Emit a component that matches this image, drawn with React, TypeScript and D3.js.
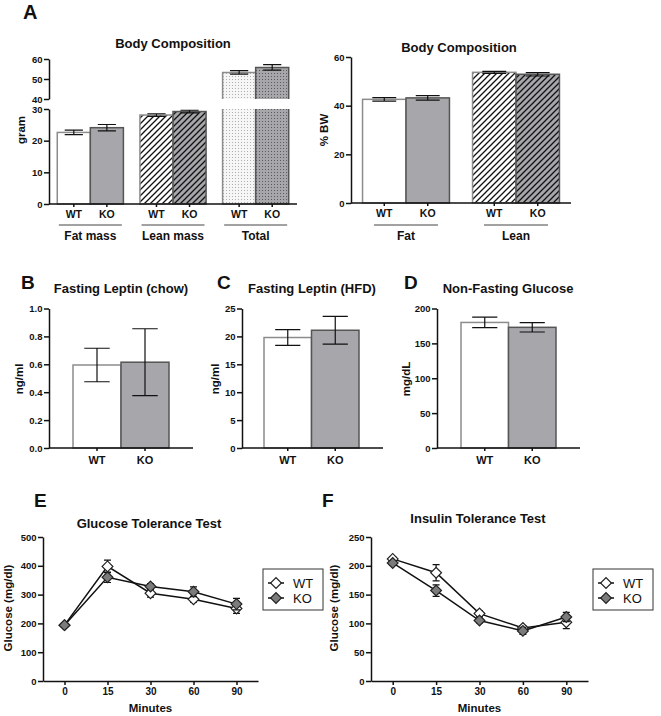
import React, { useEffect, useRef } from 'react';
import * as d3 from 'd3';

const FONT = '"Liberation Sans", Arial, Helvetica, sans-serif';
const INK = '#111';
const GREY = '#a7a6ab';
const MARKER_GREY = '#7b7b7b';

const genotypes = ['WT', 'KO'];

// A (left) body composition in grams
const massCategories = ['Fat mass', 'Lean mass', 'Total'];
const massWT = [22.6, 28.1, 53.3];
const massWTErr = [0.7, 0.4, 0.9];
const massKO = [24.1, 29.2, 55.8];
const massKOErr = [1.0, 0.4, 1.4];
const massLowTicks = [0, 10, 20, 30];
const massHighTicks = [40, 50, 60];

// A (right) body composition in % BW
const pctCategories = ['Fat', 'Lean'];
const pctWT = [42.6, 53.7];
const pctWTErr = [0.7, 0.4];
const pctKO = [43.2, 52.9];
const pctKOErr = [0.9, 0.7];
const pctTicks = [0, 20, 40, 60];

// B-D, values are [WT, KO]
const leptinChow = [0.595, 0.615];
const leptinChowErr = [0.12, 0.24];
const leptinChowTicks = [0, 0.2, 0.4, 0.6, 0.8, 1.0];

const leptinHfd = [19.8, 21.1];
const leptinHfdErr = [1.4, 2.5];
const leptinHfdTicks = [0, 5, 10, 15, 20, 25];

const glucoseNF = [180, 173];
const glucoseNFErr = [7.5, 6.7];
const glucoseNFTicks = [0, 50, 100, 150, 200];

// E, F
const minutes = ['0', '15', '30', '60', '90'];
const gttWT = [194, 398, 305, 284, 252];
const gttWTErr = [5, 22, 14, 10, 17];
const gttKO = [194, 360, 328, 310, 267];
const gttKOErr = [5, 18, 10, 17, 20];
const gttTicks = [0, 100, 200, 300, 400, 500];

const ittWT = [212, 188, 117, 92, 102];
const ittWTErr = [4, 14, 5, 4, 11];
const ittKO = [205, 157, 105, 87, 111];
const ittKOErr = [4, 10, 4, 6, 8];
const ittTicks = [0, 50, 100, 150, 200, 250];

const addText = (g: any, x: number, y: number, s: string, size: number, weight = 'bold', anchor = 'middle') =>
  g.append('text')
    .attr('x', x)
    .attr('y', y)
    .attr('font-family', FONT)
    .attr('font-size', size)
    .attr('font-weight', weight)
    .attr('text-anchor', anchor)
    .attr('fill', INK)
    .text(s);

const addYLabel = (g: any, x: number, y: number, s: string) =>
  g.append('text')
    .attr('transform', `translate(${x},${y}) rotate(-90)`)
    .attr('font-family', FONT)
    .attr('font-size', 11.5)
    .attr('font-weight', 'bold')
    .attr('text-anchor', 'middle')
    .attr('fill', INK)
    .text(s);

const styleAxis = (ax: any, size: number) => {
  ax.select('.domain').attr('stroke', INK).attr('stroke-width', 1.5);
  ax.selectAll('.tick line').attr('stroke', INK).attr('stroke-width', 1.5);
  ax.selectAll('.tick text')
    .attr('font-family', FONT)
    .attr('font-size', size)
    .attr('font-weight', 'bold')
    .attr('fill', INK);
};

const drawYAxis = (g: any, scale: any, ticks: number[], x: number, fmt: any = d3.format('d')) => {
  const ax = g.append('g')
    .attr('transform', `translate(${x},0)`)
    .call(d3.axisLeft(scale).tickValues(ticks).tickSize(5).tickSizeOuter(0).tickPadding(1.5).tickFormat(fmt));
  styleAxis(ax, 9.5);
};

const drawXLine = (g: any, x0: number, x1: number, y: number) =>
  g.append('line')
    .attr('x1', x0).attr('x2', x1)
    .attr('y1', y).attr('y2', y)
    .attr('stroke', INK)
    .attr('stroke-width', 1.5);

const errorBar = (g: any, x: number, yA: number, yB: number, cap: number) =>
  g.append('path')
    .attr('d', `M${x},${yA}V${yB}M${x - cap / 2},${yA}H${x + cap / 2}M${x - cap / 2},${yB}H${x + cap / 2}`)
    .attr('fill', 'none')
    .attr('stroke', INK)
    .attr('stroke-width', 1.2);

const barStroke = (gi: number) => (gi ? '#555' : '#8c8c8c');

// plain / hatched / dotted fill by category index
const fillFor = (ci: number, gi: number) => {
  if (ci === 1) return gi ? 'url(#hatchKO)' : 'url(#hatchWT)';
  if (ci === 2) return gi ? 'url(#dotsKO)' : 'url(#dotsWT)';
  return gi ? GREY : '#fff';
};

const barPanel = (svg: any, p: any) => {
  const g = svg.append('g');
  const y = d3.scaleLinear().domain([0, p.max]).range([448, 308.5]);
  const x = d3.scaleBand().domain(genotypes).range(p.band);
  genotypes.forEach((gt, i) => {
    const v = p.values[i];
    g.append('rect')
      .attr('x', x(gt))
      .attr('y', y(v))
      .attr('width', x.bandwidth())
      .attr('height', y(0) - y(v))
      .attr('fill', i ? GREY : '#fff')
      .attr('stroke', barStroke(i))
      .attr('stroke-width', 1.5);
    errorBar(g, x(gt)! + x.bandwidth() / 2, y(v - p.errs[i]), y(v + p.errs[i]), x.bandwidth() * 0.53);
  });
  drawXLine(g, p.axisX, p.axisEnd, y(0));
  const xa = g.append('g')
    .attr('transform', `translate(0,${y(0)})`)
    .call(d3.axisBottom(x).tickSize(3).tickPadding(5));
  xa.select('.domain').remove();
  styleAxis(xa, 11);
  drawYAxis(g, y, p.ticks, p.axisX, p.fmt);
  addText(g, p.titleX, 293, p.title, 13);
  addText(g, p.letterX, 289, p.letter, 19, 'bold', 'start');
  addYLabel(g, p.ylabelX, 379, p.ylabel);
};

const linePanel = (svg: any, p: any) => {
  const g = svg.append('g');
  const x = d3.scalePoint().domain(minutes).range([p.axisX, p.axisEnd]).padding(0.5);
  const y = d3.scaleLinear().domain([0, p.max]).range([681, 537]);
  const diamond = d3.symbol().type(d3.symbolSquare).size(58);
  const line = d3.line<number>().x((_, i) => x(minutes[i])!).y((d) => y(d));
  const series = [
    { vals: p.wt, errs: p.wtErr, fill: '#fff' },
    { vals: p.ko, errs: p.koErr, fill: MARKER_GREY },
  ];
  series.forEach((s) => {
    s.vals.forEach((v: number, i: number) => errorBar(g, x(minutes[i])!, y(v - s.errs[i]), y(v + s.errs[i]), 7));
    g.append('path')
      .attr('d', line(s.vals))
      .attr('fill', 'none')
      .attr('stroke', INK)
      .attr('stroke-width', 1.5);
    s.vals.forEach((v: number, i: number) => {
      g.append('path')
        .attr('d', diamond())
        .attr('transform', `translate(${x(minutes[i])},${y(v)}) rotate(45)`)
        .attr('fill', s.fill)
        .attr('stroke', '#222')
        .attr('stroke-width', 1.2);
    });
  });

  const xa = g.append('g')
    .attr('transform', `translate(0,${y(0)})`)
    .call(d3.axisBottom(x).tickSize(4).tickSizeOuter(0).tickPadding(3));
  styleAxis(xa, 10);
  drawYAxis(g, y, p.ticks, p.axisX);

  addText(g, (p.axisX + p.axisEnd) / 2, 712, 'Minutes', 11.5);
  addText(g, p.titleX, p.titleY, p.title, 13);
  addText(g, p.letterX, 507, p.letter, 19, 'bold', 'start');
  addYLabel(g, p.ylabelX, 608, 'Glucose (mg/dl)');

  // legend
  const lg = g.append('g').attr('transform', `translate(${p.legendX},569)`);
  lg.append('rect')
    .attr('width', 60)
    .attr('height', 41)
    .attr('fill', '#fff')
    .attr('stroke', '#333')
    .attr('stroke-width', 1);
  series.forEach((s, i) => {
    const cy = 14 + i * 15;
    lg.append('line')
      .attr('x1', 5).attr('x2', 21)
      .attr('y1', cy).attr('y2', cy)
      .attr('stroke', INK)
      .attr('stroke-width', 1.5);
    lg.append('path')
      .attr('d', diamond())
      .attr('transform', `translate(13,${cy}) rotate(45)`)
      .attr('fill', s.fill)
      .attr('stroke', '#222')
      .attr('stroke-width', 1.2);
    addText(lg, 30, cy + 4.5, genotypes[i], 13, 'normal', 'start');
  });
};

export default function App() {
  const svgRef = useRef<SVGSVGElement>(null);

  useEffect(() => {
    const svg = d3.select(svgRef.current);
    svg.selectAll('*').remove();

    // patterns
    const defs = svg.append('defs');
    const hatch = (id: string, bg: string) => {
      const pt = defs.append('pattern')
        .attr('id', id)
        .attr('patternUnits', 'userSpaceOnUse')
        .attr('width', 6)
        .attr('height', 6);
      pt.append('rect').attr('width', 6).attr('height', 6).attr('fill', bg);
      pt.append('path')
        .attr('d', 'M-1,1L1,-1M0,6L6,0M5,7L7,5')
        .attr('stroke', INK)
        .attr('stroke-width', 1.3);
    };
    const dots = (id: string, bg: string, dot: string) => {
      const pt = defs.append('pattern')
        .attr('id', id)
        .attr('patternUnits', 'userSpaceOnUse')
        .attr('width', 3)
        .attr('height', 3);
      pt.append('rect').attr('width', 3).attr('height', 3).attr('fill', bg);
      pt.append('rect').attr('x', 1).attr('y', 1).attr('width', 1).attr('height', 1).attr('fill', dot);
    };
    hatch('hatchWT', '#fff');
    hatch('hatchKO', GREY);
    dots('dotsWT', '#f6f6f6', '#b0b0b0');
    dots('dotsKO', GREY, '#5a5a5a');

    svg.append('rect').attr('width', 661).attr('height', 716).attr('fill', '#fff');

    // ---- A left: grams with broken axis
    const gA = svg.append('g');
    const ax = d3.scaleBand().domain(massCategories).range([49, 297]).paddingInner(0.2).paddingOuter(0.1);
    const inner = d3.scaleBand().domain(genotypes).range([0, ax.bandwidth()]);
    const yLow = d3.scaleLinear().domain([0, 30]).range([204, 109]);
    const yHigh = d3.scaleLinear().domain([40, 60]).range([99, 59]);

    massCategories.forEach((cat, ci) => {
      genotypes.forEach((gt, gi) => {
        const v = gi ? massKO[ci] : massWT[ci];
        const e = gi ? massKOErr[ci] : massWTErr[ci];
        const bx = ax(cat)! + inner(gt)!;
        const w = inner.bandwidth();
        if (v > 30) {
          gA.append('rect')
            .attr('x', bx).attr('y', yLow(30))
            .attr('width', w).attr('height', yLow(0) - yLow(30))
            .attr('fill', fillFor(ci, gi));
          gA.append('path')
            .attr('d', `M${bx},${yLow(30)}V${yLow(0)}H${bx + w}V${yLow(30)}`)
            .attr('fill', 'none').attr('stroke', barStroke(gi)).attr('stroke-width', 1.5);
          gA.append('rect')
            .attr('x', bx).attr('y', yHigh(v))
            .attr('width', w).attr('height', yHigh(40) - yHigh(v))
            .attr('fill', fillFor(ci, gi));
          gA.append('path')
            .attr('d', `M${bx},${yHigh(40)}V${yHigh(v)}H${bx + w}V${yHigh(40)}`)
            .attr('fill', 'none').attr('stroke', barStroke(gi)).attr('stroke-width', 1.5);
          errorBar(gA, bx + w / 2, yHigh(v - e), yHigh(v + e), w * 0.55);
        } else {
          gA.append('rect')
            .attr('x', bx).attr('y', yLow(v))
            .attr('width', w).attr('height', yLow(0) - yLow(v))
            .attr('fill', fillFor(ci, gi))
            .attr('stroke', barStroke(gi)).attr('stroke-width', 1.5);
          errorBar(gA, bx + w / 2, yLow(v - e), yLow(v + e), w * 0.55);
        }
      });
      const xa = gA.append('g')
        .attr('transform', `translate(${ax(cat)},204)`)
        .call(d3.axisBottom(inner).tickSize(3).tickPadding(3.5));
      xa.select('.domain').remove();
      styleAxis(xa, 10.5);
      const c = ax(cat)! + ax.bandwidth() / 2;
      gA.append('line')
        .attr('x1', c - 31.5).attr('x2', c + 31.5)
        .attr('y1', 225).attr('y2', 225)
        .attr('stroke', '#444').attr('stroke-width', 1);
      addText(gA, c, 240, cat, 12);
    });
    drawXLine(gA, 49, 297, 204);
    drawYAxis(gA, yLow, massLowTicks, 49);
    drawYAxis(gA, yHigh, massHighTicks, 49);
    addText(gA, 173, 48, 'Body Composition', 13);
    addText(gA, 23, 19, 'A', 20, 'bold', 'start');
    addYLabel(gA, 25, 130, 'gram');

    // ---- A right: % BW
    const gR = svg.append('g');
    const bxs = d3.scaleBand().domain(pctCategories).range([351, 571]).paddingInner(0.21).paddingOuter(0.105);
    const innerR = d3.scaleBand().domain(genotypes).range([0, bxs.bandwidth()]);
    const yR = d3.scaleLinear().domain([0, 60]).range([203, 57]);
    pctCategories.forEach((cat, ci) => {
      genotypes.forEach((gt, gi) => {
        const v = gi ? pctKO[ci] : pctWT[ci];
        const e = gi ? pctKOErr[ci] : pctWTErr[ci];
        const bx = bxs(cat)! + innerR(gt)!;
        const w = innerR.bandwidth();
        gR.append('rect')
          .attr('x', bx).attr('y', yR(v))
          .attr('width', w).attr('height', yR(0) - yR(v))
          .attr('fill', fillFor(ci, gi))
          .attr('stroke', barStroke(gi)).attr('stroke-width', 1.5);
        errorBar(gR, bx + w / 2, yR(v - e), yR(v + e), w * 0.55);
      });
      const xa = gR.append('g')
        .attr('transform', `translate(${bxs(cat)},203)`)
        .call(d3.axisBottom(innerR).tickSize(3).tickPadding(4));
      xa.select('.domain').remove();
      styleAxis(xa, 10.5);
      const c = bxs(cat)! + bxs.bandwidth() / 2;
      gR.append('line')
        .attr('x1', c - 32).attr('x2', c + 32)
        .attr('y1', 225).attr('y2', 225)
        .attr('stroke', '#444').attr('stroke-width', 1);
      addText(gR, c, 240, cat, 12);
    });
    drawXLine(gR, 351, 571, 203);
    drawYAxis(gR, yR, pctTicks, 351);
    addText(gR, 459, 52, 'Body Composition', 13);
    addYLabel(gR, 328, 130, '% BW');

    // ---- B, C, D
    barPanel(svg, {
      max: 1.0, band: [73, 169], axisX: 49, axisEnd: 193,
      values: leptinChow, errs: leptinChowErr, ticks: leptinChowTicks, fmt: d3.format('.1f'),
      title: 'Fasting Leptin (chow)', titleX: 121, letter: 'B', letterX: 21,
      ylabel: 'ng/ml', ylabelX: 23,
    });
    barPanel(svg, {
      max: 25, band: [264, 359], axisX: 242, axisEnd: 383,
      values: leptinHfd, errs: leptinHfdErr, ticks: leptinHfdTicks, fmt: d3.format('d'),
      title: 'Fasting Leptin (HFD)', titleX: 312, letter: 'C', letterX: 217,
      ylabel: 'ng/ml', ylabelX: 219,
    });
    barPanel(svg, {
      max: 200, band: [461, 556], axisX: 437, axisEnd: 580,
      values: glucoseNF, errs: glucoseNFErr, ticks: glucoseNFTicks, fmt: d3.format('d'),
      title: 'Non-Fasting Glucose', titleX: 508, letter: 'D', letterX: 404,
      ylabel: 'mg/dL', ylabelX: 410,
    });

    // ---- E, F
    linePanel(svg, {
      max: 500, axisX: 43, axisEnd: 258, ticks: gttTicks,
      wt: gttWT, wtErr: gttWTErr, ko: gttKO, koErr: gttKOErr,
      title: 'Glucose Tolerance Test', titleX: 149, titleY: 528,
      letter: 'E', letterX: 34, ylabelX: 12, legendX: 263,
    });
    linePanel(svg, {
      max: 250, axisX: 371, axisEnd: 588, ticks: ittTicks,
      wt: ittWT, wtErr: ittWTErr, ko: ittKO, koErr: ittKOErr,
      title: 'Insulin Tolerance Test', titleX: 478, titleY: 523,
      letter: 'F', letterX: 322, ylabelX: 338, legendX: 593,
    });
  }, []);

  return (
    <svg
      ref={svgRef}
      width={661}
      height={716}
      style={{ position: 'absolute', left: 0, top: 0 }}
    />
  );
}
